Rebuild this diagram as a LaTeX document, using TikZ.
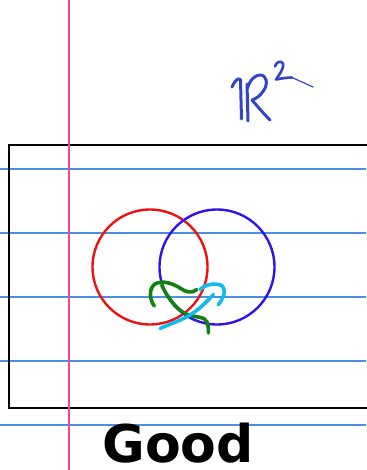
\documentclass[tikz,border=0pt]{standalone}
\usepackage{fontspec}
\newfontfamily\goodfont{DejaVu Sans}
\begin{document}
\begin{tikzpicture}[x=1pt,y=-1pt,
  ruled/.style={draw={rgb,255:red,74;green,144;blue,226},line width=1.3pt},
  margin/.style={draw={rgb,255:red,238;green,68;blue,153},line width=1.8pt},
  frame/.style={draw=black,line width=2.2pt},
  pen/.style={line width=3.6pt,line cap=round,line join=round},
  circ/.style={line width=2.4pt}]
\useasboundingbox (0,0) rectangle (366,470);
% ruled lines
\foreach \yy in {169,233,297,361,425} \draw[ruled] (0,\yy) -- (366,\yy);
% frame
\draw[frame] (380,145) -- (9,145) -- (9,408) -- (380,408);
% margin line
\draw[margin] (69,0) -- (69,470);
% circles
\draw[circ,draw={rgb,255:red,238;green,17;blue,17}] (150,267) circle (57.5);
\draw[circ,draw={rgb,255:red,51;green,17;blue,238}] (217,267) circle (57.5);
% green strokes
\definecolor{gpen}{RGB}{17,130,17}
\definecolor{cpen}{RGB}{17,187,238}
\draw[pen,gpen] (154.3,306) .. controls (149,299) and (149,288) .. (155,284)
  .. controls (162,280) and (172,283) .. (180,288)
  .. controls (186,292) and (191,294) .. (196.7,289.5);
\draw[pen,gpen] (161.7,285) .. controls (166,295) and (175,308) .. (185,313.5)
  .. controls (195,318) and (205,316) .. (207,322)
  .. controls (208.5,326) and (208.5,330) .. (208.3,333);
% cyan strokes
\draw[pen,cpen] (160,328.5) .. controls (170,324) and (182,320) .. (190,315)
  .. controls (198,310) and (207,302) .. (213.3,294.5);
\draw[pen,cpen] (200,289.5) .. controls (205,285) and (212,283) .. (219,284.5)
  .. controls (226,286) and (225,294) .. (222,299)
  .. controls (221,301.5) and (219.5,303.5) .. (218.3,304.7);
% R^2
\definecolor{rpen}{RGB}{51,68,204}
\draw[pen,rpen,line width=3pt] (232,87) .. controls (235,80) and (239,77) .. (240.5,80) -- (241.5,119);
\draw[pen,rpen,line width=3pt] (247,84) -- (248,121);
\draw[pen,rpen,line width=3pt] (247.5,88) .. controls (250,80) and (255,75) .. (260,75)
  .. controls (267,75) and (268,84) .. (264,90)
  .. controls (261,95) and (256,99) .. (252,100)
  .. controls (258,107) and (264,114) .. (270,120);
\draw[pen,rpen,line width=2.6pt] (275,66.5) .. controls (276,62) and (281,60) .. (283,63.5)
  .. controls (284.5,68) and (279,75) .. (276,79.5)
  .. controls (281,78.5) and (287,77.5) .. (292,77.5);
\draw[rpen,line width=1.2pt,line cap=round] (292,77.5) -- (313,87);
% label
\node[anchor=base,inner sep=0pt] (good) at (178,462.5) {\goodfont\bfseries\fontsize{52}{60}\selectfont Good};
\end{tikzpicture}
\end{document}
